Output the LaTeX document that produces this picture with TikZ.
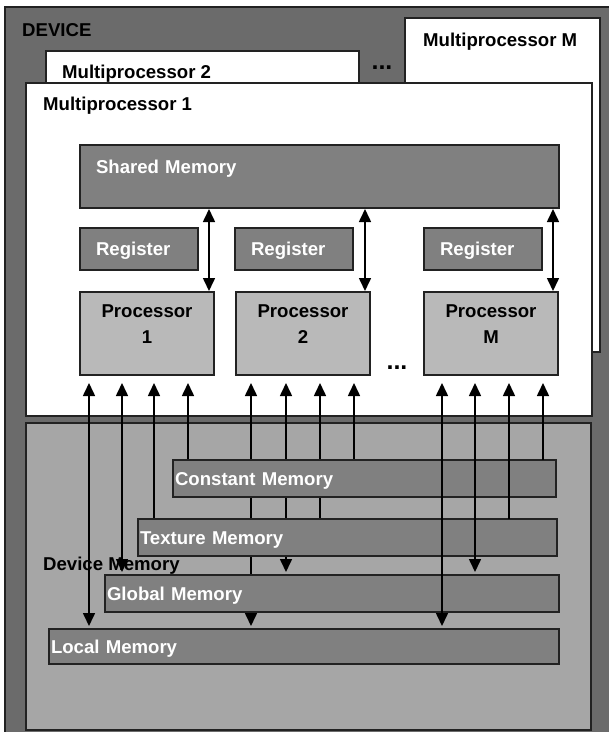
\documentclass[tikz,border=0pt]{standalone}
\usepackage{fontspec}
\setmainfont{Liberation Sans}
\usetikzlibrary{arrows.meta,calc,positioning}

\definecolor{devgray}{RGB}{107,107,107}
\definecolor{memgray}{RGB}{128,128,128}
\definecolor{procgray}{RGB}{185,185,185}
\definecolor{dmgray}{RGB}{166,166,166}
\definecolor{edgegray}{RGB}{34,34,34}

\pgfdeclarelayer{bg}
\pgfdeclarelayer{wires}
\pgfsetlayers{bg,wires,main}

\tikzset{
  box/.style={
    draw=edgegray,
    line width=1.8pt,
    anchor=north west,
    inner sep=0pt,
    outer sep=0pt
  },
  container/.style={
    box,
    fill=white
  },
  membox/.style={
    box,
    fill=memgray,
    text=white,
    align=left,
    inner xsep=2pt,
    text height=13.3pt,
    text depth=0pt
  },
  regbox/.style={
    membox,
    inner xsep=16pt,
    text width=86pt,
    minimum height=42pt
  },
  procbox/.style={
    box,
    fill=procgray,
    align=center,
    text width=134pt,
    minimum height=83pt,
    text height=13.3pt,
    text depth=45pt
  },
  title/.style={
    anchor=west,
    inner sep=0pt,
    text height=13.3pt,
    text depth=0pt
  },
  dots/.style={
    inner sep=0pt,
    font=\fontsize{25pt}{30pt}\selectfont\bfseries
  },
  rw/.style={<->, line width=1.6pt, shorten <=8pt, shorten >=3pt},
  rd/.style={<-, line width=1.6pt, shorten <=8pt},
  smrw/.style={<->, line width=1.6pt, shorten <=1pt, shorten >=1pt}
}

\begin{document}
\begin{tikzpicture}[%
        x=1pt,
        y=-1pt,
        >={Triangle[width=12pt,length=13pt]},
        font=\fontsize{18.6pt}{26pt}\selectfont\bfseries]
      \useasboundingbox (0,0) rectangle (609,732);
      \begin{pgfonlayer}{bg}
        \node[box,fill=devgray,minimum width=610pt,minimum height=730pt] (device) at (5,7)    {};
        \node[container,minimum width=195pt,minimum height=334pt]        (mpm)    at (405,18) {};
        \node[container,minimum width=313pt,minimum height=150pt]        (mp2)    at (46,51)  {};
        \node[container,minimum width=566pt,minimum height=333pt]        (mp1)    at (26,83)  {};
        \node[box,fill=dmgray,minimum width=565pt,minimum height=307pt]  (devmem) at (26,423) {};
      \end{pgfonlayer}
      \node[title] (devicetitle) at ($(device.north west)+(17,23)$) {DEVICE};
      \node[title] (mpmtitle)    at ($(mpm.north west)+(18,22)$)    {Multiprocessor M};
      \node[title] (mp2title)    at ($(mp2.north west)+(16,21)$)    {Multiprocessor 2};
      \node[title] (mp1title)    at ($(mp1.north west)+(17,21)$)    {Multiprocessor 1};
      \node[dots]  (dotsmp)      at ($(mp2.north east)!0.5!(mpm.north west)+(0,33)$) {...};
      % one multiprocessor
      \node[membox,inner xsep=16pt,text width=447pt,minimum height=63pt,text depth=19pt]
                      (shm)   at (80,145)  {Shared Memory};
      \node[regbox]   (reg1)  at (80,228)  {Register};
      \node[regbox]   (reg2)  at (235,228) {Register};
      \node[regbox]   (regm)  at (424,228) {Register};
      \node[procbox]  (proc1) at (80,292)  {Processor\\1};
      \node[procbox]  (proc2) at (236,292) {Processor\\2};
      \node[procbox]  (procm) at (424,292) {Processor\\M};
      \node[dots]     (dotsproc) at ($(proc2.south east)!0.5!(procm.south west)+(0,-7)$) {...};
      \foreach \p in {proc1,proc2,procm}
        \draw[smrw] ($(\p.north east)+(-5,0)$) coordinate (s) -- (s |- shm.south);
      % device memory
      \node[membox,text width=379pt,minimum height=37pt] (cmem) at (173,460) {Constant Memory};
      \node[membox,text width=415pt,minimum height=37pt] (tmem) at (138,519) {Texture Memory};
      \node[membox,text width=450pt,minimum height=37pt] (gmem) at (105,575) {Global Memory};
      \node[membox,text width=506pt,minimum height=35pt] (lmem) at (49,629)  {Local Memory};
      \node[title] (devmemtitle) at ($(devmem.north west)+(17,141)$) {Device Memory};
      \begin{pgfonlayer}{wires}
        \foreach \p/\a/\b/\c/\d in {proc1/9/42/74/108, proc2/15/50/84/118} {
          \draw[rw] ($(\p.south west)+(\a,0)$) coordinate (s) -- (s |- lmem.north);
          \draw[rw] ($(\p.south west)+(\b,0)$) coordinate (s) -- (s |- gmem.north);
          \draw[rd] ($(\p.south west)+(\c,0)$) coordinate (s) -- (s |- tmem.north);
          \draw[rd] ($(\p.south west)+(\d,0)$) coordinate (s) -- (s |- cmem.north);
        }
      \end{pgfonlayer}
      % last processor: wires run over the memories
      \draw[rw] ($(procm.south west)+(18,0)$)  coordinate (s) -- (s |- lmem.north);
      \draw[rw] ($(procm.south west)+(51,0)$)  coordinate (s) -- (s |- gmem.north);
      \draw[rd] ($(procm.south west)+(85,0)$)  coordinate (s) -- (s |- tmem.north);
      \draw[rd] ($(procm.south west)+(119,0)$) coordinate (s) -- (s |- cmem.north);
    \end{tikzpicture}
\end{document}
